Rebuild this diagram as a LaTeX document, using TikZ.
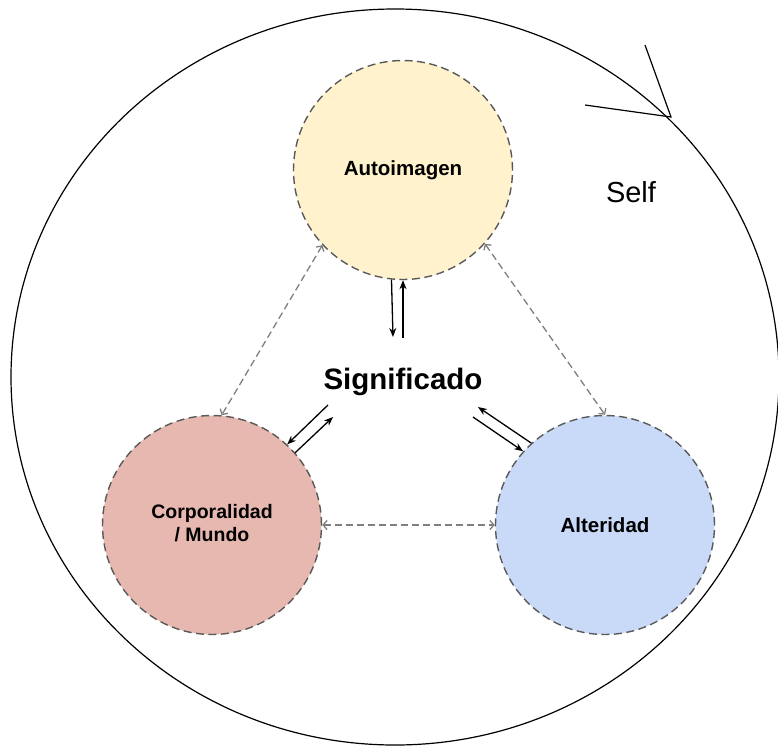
\documentclass[tikz,border=0pt]{standalone}
\usepackage{fontspec}
\setmainfont{Liberation Sans}
\usetikzlibrary{arrows.meta,calc}
\definecolor{autoc}{HTML}{FFF2CC}
\definecolor{corpc}{HTML}{E6B8AF}
\definecolor{altc}{HTML}{C9DAF8}
\definecolor{bordc}{HTML}{595959}
\definecolor{linkc}{HTML}{7F7F7F}
\begin{document}
\begin{tikzpicture}[x=1pt,y=-1pt,
  bubble/.style={circle, draw=bordc, dash pattern=on 8pt off 4.5pt, line width=1.4pt,
    minimum size=219pt, inner sep=0pt, align=center,
    font=\fontsize{20.5}{23}\selectfont\bfseries},
  duallink/.style={draw=linkc, line width=1.3pt, dash pattern=on 7pt off 4pt,
    {Straight Barb[length=4pt,width=9pt]}-{Straight Barb[length=4pt,width=9pt]}},
  flow/.style={draw=black, line width=1.3pt, -{Stealth[length=9pt,width=7pt]}},
  outline/.style={draw=black, line width=1.2pt}]
\useasboundingbox (0,0) rectangle (778,747);
\draw[outline] (395,377) ellipse [x radius=384, y radius=368];
\coordinate (tip) at (671,117);
\coordinate (barbA) at (645,45);
\coordinate (barbB) at (585,105);
\draw[outline] (barbA) -- (tip) -- (barbB);

\node[bubble, fill=autoc] (auto) at (403,170) {\raisebox{-3pt}{Autoimagen}};
\node[bubble, fill=corpc, font=\fontsize{19.5}{23}\selectfont\bfseries] (corp) at (212,525) {\raisebox{-4pt}{\begin{tabular}{@{}c@{}}Corporalidad\\/ Mundo\end{tabular}}};
\node[bubble, fill=altc] (alt) at (605,525) {\raisebox{-2pt}{Alteridad}};
\node[font=\fontsize{29.5}{34}\selectfont\bfseries] (sig) at (403,382) {Significado};
\node[font=\fontsize{29}{34}\selectfont] (self) at (631,192) {Self};

\draw[duallink] (auto.223) -- (corp.85);
\draw[duallink] (auto.318) -- (alt.90);
\draw[duallink] (corp.east) -- (alt.west);

\coordinate (tdown) at (393,337);
\coordinate (tup) at (403,338);
\draw[flow] (auto.264.6) -- (tdown);
\draw[flow] (tup) -- (auto.270);

\coordinate (lin) at (328,405);
\coordinate (lout) at (333,417);
\draw[flow] (lin) -- (corp.47.5);
\draw[flow] (corp.41) -- (lout);

\coordinate (rin) at (478,407);
\coordinate (rout) at (473,417);
\draw[flow] (alt.132.5) -- (rin);
\draw[flow] (rout) -- (alt.138.7);
\end{tikzpicture}
\end{document}
